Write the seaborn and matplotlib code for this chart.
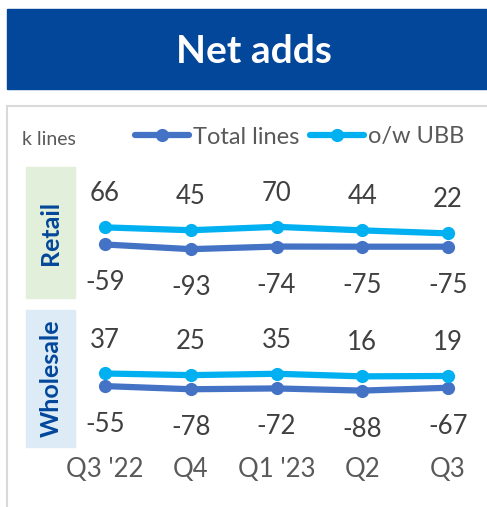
import matplotlib
matplotlib.use("Agg")
import matplotlib.pyplot as plt
from matplotlib.patches import Rectangle
import seaborn as sns
import pandas as pd

# Данные
quarters = ["Q3 '22", "Q4", "Q1 '23", "Q2", "Q3"]
series_names = ["Total lines", "o/w UBB"]
retail_total = [-59, -93, -74, -75, -75]
retail_ubb = [66, 45, 70, 44, 22]
wholesale_total = [-55, -78, -72, -88, -67]
wholesale_ubb = [37, 25, 35, 16, 19]

total_color = "#4472C4"
ubb_color = "#00B0F0"
label_color = "#404040"
dark_blue = "#02479A"

sns.set_style("white")
plt.rcParams["font.family"] = ["Lato", "DejaVu Sans"]

W, H = 487, 507
fig = plt.figure(figsize=(W / 100, H / 100), dpi=100)


def px_rect(x0, y0, x1, y1):
    """Пиксели (сверху вниз) -> координаты фигуры."""
    return [x0 / W, 1 - y1 / H, (x1 - x0) / W, (y1 - y0) / H]


# Синий заголовок
fig.patches.append(Rectangle((7 / W, 1 - 89 / H), 480 / W, 80 / H,
                             transform=fig.transFigure, color=dark_blue, zorder=0))
fig.text(254 / W, 1 - 63 / H, "Net adds", ha="center", va="baseline",
         fontsize=28, fontweight="bold", color="white")

# Серая рамка панели
fig.patches.append(Rectangle((7 / W, -20 / H), 500 / W, (H - 106 + 20) / H,
                             transform=fig.transFigure, facecolor="none",
                             edgecolor="#D9D9D9", lw=1.5, zorder=0))

# Подписи сегментов
fig.patches.append(Rectangle((26 / W, 1 - 298 / H), 49 / W, 131 / H,
                             transform=fig.transFigure, color="#E2EFDA", zorder=0))
fig.patches.append(Rectangle((26 / W, 1 - 447 / H), 49 / W, 137 / H,
                             transform=fig.transFigure, color="#DDEBF7", zorder=0))
fig.text(51 / W, 1 - 233 / H, "Retail", rotation=90, ha="center", va="center",
         fontsize=18, fontweight="bold", color=dark_blue)
fig.text(51 / W, 1 - 378 / H, "Wholesale", rotation=90, ha="center", va="center",
         fontsize=18, fontweight="bold", color=dark_blue)

fig.text(22 / W, 1 - 145 / H, "k lines", ha="left", va="baseline",
         fontsize=14, color="#595959")

panels = [
    (retail_total, retail_ubb, px_rect(80, 165, 480, 300), (-464, 521)),
    (wholesale_total, wholesale_ubb, px_rect(80, 305, 480, 455), (-558, 537)),
]

axes = []
for total, ubb, rect, ylim in panels:
    ax = fig.add_axes(rect)
    ax.patch.set_alpha(0)
    df = pd.DataFrame({
        "x": list(range(len(quarters))) * 2,
        "value": total + ubb,
        "series": [series_names[0]] * len(total) + [series_names[1]] * len(ubb),
    })
    sns.lineplot(data=df, x="x", y="value", hue="series", hue_order=series_names,
                 palette=[total_color, ubb_color], marker="o", markersize=9.5,
                 markeredgewidth=0, linewidth=4.5, legend=False, ax=ax)
    for i, v in enumerate(ubb):
        ax.annotate(str(v), (i, v), xytext=(0, 18.7), textcoords="offset points",
                    ha="center", va="baseline", fontsize=18.5, color=label_color)
    for i, v in enumerate(total):
        ax.annotate(str(v), (i, v), xytext=(0, -33.1), textcoords="offset points",
                    ha="center", va="baseline", fontsize=18.5, color=label_color)
    ax.set_xlim(-0.2915, 4.373)
    ax.set_ylim(*ylim)
    ax.set_yticks([])
    ax.set_xlabel("")
    ax.set_ylabel("")
    sns.despine(ax=ax, left=True, bottom=True)
    axes.append(ax)

axes[0].set_xticks([])
axes[1].set_xticks(range(len(quarters)))
axes[1].set_xticklabels(quarters, fontsize=18.5, color="#595959")
axes[1].tick_params(axis="x", length=0, pad=1.5)

# Легенда
handles = axes[0].get_lines()[:2]
fig.legend(handles, series_names, loc="center left",
           bbox_to_anchor=(135 / W, 1 - 137 / H), ncol=2, frameon=False,
           handlelength=2.3, handletextpad=0.15, columnspacing=0.45,
           borderpad=0, borderaxespad=0, fontsize=17, labelcolor="#595959")

plt.savefig("out.png", dpi=100)
plt.close()
